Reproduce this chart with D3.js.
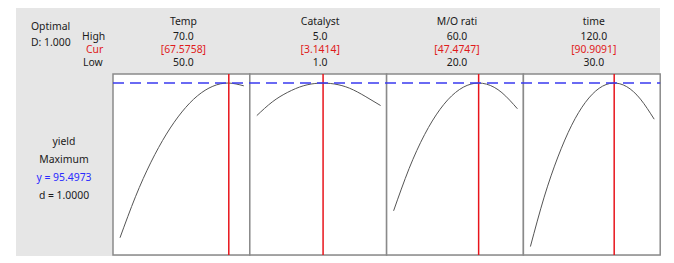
<!DOCTYPE html>
<html>
<head>
<meta charset="utf-8">
<script src="https://cdn.jsdelivr.net/npm/d3@7"></script>
<style>
  body { margin: 0; background: #fff; }
  text { font-family: "Noto Sans", "Open Sans", sans-serif; font-size: 10.4px; fill: #1a1a1a; }
</style>
</head>
<body>
<script>
// factor names, high / current / low settings
var factors = ["Temp", "Catalyst", "M/O rati", "time"];
var highs = [70.0, 5.0, 60.0, 120.0];
var lows = [50.0, 1.0, 20.0, 30.0];
var curs = [67.5758, 3.1414, 47.4747, 90.9091];

// predicted yield along each factor
var tempX = [50, 52.5, 55, 57.5, 60, 62.5, 65, 67.5, 70];
var tempY = [57.0, 67.2, 75.8, 82.8, 88.3, 92.3, 94.7, 95.5, 94.8];
var catX = [1.0, 1.5, 2.0, 2.5, 3.0, 3.5, 4.0, 4.5, 5.0];
var catY = [87.4, 90.8, 93.2, 94.8, 95.46, 95.27, 94.2, 92.2, 89.9];
var moX = [20, 25, 30, 35, 40, 45, 50, 55, 60];
var moY = [63.7, 74.2, 82.65, 88.95, 93.15, 95.24, 95.23, 93.1, 89.1];
var timeX = [30, 40, 50, 60, 70, 80, 90, 100, 110, 120];
var timeY = [54.8, 67.1, 77.1, 85.0, 90.7, 94.2, 95.49, 94.6, 91.5, 86.5];

var curveXs = [tempX, catX, moX, timeX];
var curveYs = [tempY, catY, moY, timeY];

var yOpt = 95.4973;
var dOpt = 1.0000;

var width = 674, height = 263;
var panelTop = 74, panelBottom = 255, panelLeft = 113, panelW = 136.8;

var svg = d3.select("body").append("svg")
  .attr("width", width)
  .attr("height", height);

// grey backdrop
svg.append("rect")
  .attr("x", 16).attr("y", 8)
  .attr("width", 644).attr("height", 248)
  .style("fill", "#e6e6e6");

// common y scale
var y = d3.scaleLinear().domain([52.7, 97.75]).range([panelBottom, panelTop]);

var line = d3.line().curve(d3.curveNatural);

// left header
svg.append("text").attr("x", 31).attr("y", 30).text("Optimal");
svg.append("text").attr("x", 31).attr("y", 46).text("D: 1.000");
svg.append("text").attr("x", 82).attr("y", 39.5).text("High");
svg.append("text").attr("x", 86).attr("y", 52.5).style("fill", "#e01b1b").text("Cur");
svg.append("text").attr("x", 83).attr("y", 65.5).text("Low");

// left response block
var leftLines = [
  {t: "yield", c: "#1a1a1a"},
  {t: "Maximum", c: "#1a1a1a"},
  {t: "y = " + yOpt.toFixed(4), c: "#2a2aff"},
  {t: "d = " + dOpt.toFixed(4), c: "#1a1a1a"}
];
svg.selectAll(".resp")
  .data(leftLines)
  .enter()
  .append("text")
    .attr("class", "resp")
    .attr("x", 64)
    .attr("y", function(d, i) { return 145 + i * 18; })
    .attr("text-anchor", "middle")
    .style("fill", function(d) { return d.c; })
    .text(function(d) { return d.t; });

factors.forEach(function(name, i) {
  var x0 = panelLeft + i * panelW;
  var x = d3.scaleLinear().domain([lows[i], highs[i]]).range([x0 + 7, x0 + panelW - 6]);
  var cx = x0 + panelW / 2 + 2;

  // header
  svg.append("text").attr("x", cx).attr("y", 25).attr("text-anchor", "middle").text(name);
  svg.append("text").attr("x", cx).attr("y", 39.5).attr("text-anchor", "middle").text(highs[i].toFixed(1));
  svg.append("text").attr("x", cx).attr("y", 52.5).attr("text-anchor", "middle")
    .style("fill", "#e01b1b").text("[" + curs[i].toFixed(4) + "]");
  svg.append("text").attr("x", cx).attr("y", 65.5).attr("text-anchor", "middle").text(lows[i].toFixed(1));

  // panel
  svg.append("rect")
    .attr("x", x0).attr("y", panelTop)
    .attr("width", panelW).attr("height", panelBottom - panelTop)
    .style("fill", "#fff")
    .style("stroke", "#8a8a8a")
    .style("stroke-width", 1.5);

  // response curve
  var pts = curveXs[i].map(function(v, j) { return [x(v), y(curveYs[i][j])]; });
  svg.append("path")
    .attr("d", line(pts))
    .style("fill", "none")
    .style("stroke", "#555")
    .style("stroke-width", 1);

  // current setting
  svg.append("line")
    .attr("x1", x(curs[i])).attr("x2", x(curs[i]))
    .attr("y1", panelTop).attr("y2", panelBottom)
    .style("stroke", "#e8141b")
    .style("stroke-width", 1.5);
});

// optimal response dashed line
svg.append("line")
  .attr("x1", panelLeft).attr("x2", panelLeft + 4 * panelW)
  .attr("y1", y(yOpt)).attr("y2", y(yOpt))
  .style("stroke", "#3a3af0")
  .style("stroke-width", 1.5)
  .style("stroke-dasharray", "11,6");
</script>
</body>
</html>
